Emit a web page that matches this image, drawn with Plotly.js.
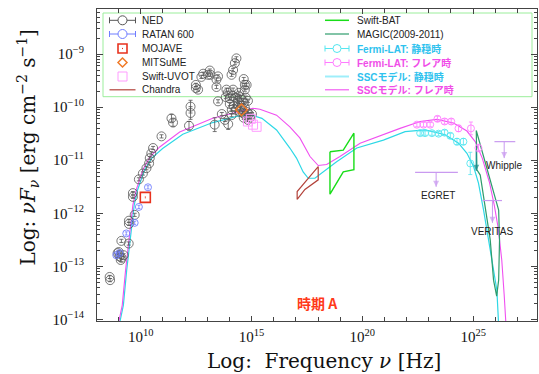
<!DOCTYPE html>
<html><head><meta charset="utf-8">
<script src="https://cdn.plot.ly/plotly-3.0.1.min.js"></script>
<style>html,body{margin:0;padding:0;background:#fff;}#chart{width:539px;height:374px;}</style>
</head><body><div id="chart"></div>
<script>
// ---- data: log10(frequency [Hz]) and log10(nuFnu [erg cm^-2 s^-1]) ----
const nedX = [8.60,8.62,8.96,9.05,9.14,9.23,9.10,9.01,9.13,9.46,
  9.47,9.47,9.73,9.65,9.65,9.92,10.10,10.26,10.38,10.41,
  10.48,10.56,10.94,11.39,11.46,12.18,12.25,12.25,13.34,12.49,
  12.49,12.59,12.74,12.82,13.12,13.15,13.04,13.42,13.42,13.49,
  13.87,14.17,14.32,14.25,14.17,14.10,14.65,14.70,14.70,14.78,
  13.49,13.95,13.66,13.80,
  13.84,14.02,14.16,14.29,14.38,14.47,14.56,14.65,14.74,14.84,
  14.02,14.20,14.38,14.52,14.70,14.79,14.11,13.93,14.43,14.29,
  14.47,14.61,14.74,14.88,14.93,14.65,14.84,15.02,14.10];
const nedY = [-13.20,-13.26,-12.75,-12.81,-12.84,-12.79,-12.88,-12.73,-12.52,-12.57,
  -12.14,-12.20,-12.03,-11.62,-11.69,-11.36,-11.25,-11.15,-11.06,-10.96,
  -10.87,-10.77,-10.55,-10.21,-10.29,-10.35,-9.99,-10.11,-10.33,-9.58,
  -9.64,-9.67,-9.43,-9.37,-9.31,-9.39,-9.39,-9.48,-9.62,-9.42,
  -9.67,-9.67,-9.08,-9.17,-9.30,-9.39,-9.47,-9.58,-9.67,-9.58,
  -9.89,-10.32,-10.13,-10.24,
  -9.81,-9.84,-9.79,-9.82,-9.88,-9.81,-9.86,-9.92,-9.82,-9.88,
  -9.94,-9.98,-9.96,-10.01,-10.01,-10.09,-10.05,-9.73,-9.73,-10.05,
  -10.09,-10.11,-10.16,-10.13,-10.20,-10.20,-10.24,-10.13,-10.15];
const nedErr = [.03,.03,.03,.03,.03,.03,.03,.03,.03,.03,
  .03,.03,.03,.03,.03,.03,.03,.03,.03,.03,
  .03,.03,.03,.07,.07,.08,.12,.12,.13,.03,
  .03,.03,.03,.03,.03,.03,.03,.03,.03,.03,
  .03,.03,.03,.03,.03,.03,.03,.03,.03,.03,
  .03,.10,.03,.03,
  .03,.03,.03,.03,.03,.03,.03,.03,.03,.03,
  .03,.03,.03,.03,.03,.03,.03,.03,.03,.03,
  .03,.03,.03,.03,.03,.03,.03,.03,.03];

const ratanX = [10.33, 9.92, 9.73, 9.35, 9.05, 8.90];
const ratanY = [-11.51, -11.88, -12.18, -12.38, -12.75, -12.79];

const mojaveX = [10.21];
const mojaveY = [-11.70];

const mitsumeX = [14.55];
const mitsumeY = [-10.05];

const uvotX = [14.84, 14.97, 15.07, 15.23];
const uvotY = [-10.27, -10.22, -10.33, -10.37];

const chandraX = [17.06, 17.06, 17.56, 18.01, 18.01, 17.41];
const chandraY = [-11.74, -11.59, -11.34, -11.12, -11.37, -11.55];

const batX = [18.54, 19.14, 19.62, 19.62, 19.14, 18.54];
const batY = [-10.84, -10.81, -10.49, -11.18, -11.22, -11.64];

const magicX = [25.14, 25.40, 25.77, 26.15, 26.19, 26.15, 26.06, 25.92, 25.77, 25.32, 25.17];
const magicY = [-10.44, -10.84, -11.37, -11.94, -12.50, -13.26, -13.56, -13.26, -12.50, -11.28, -11.18];
const magicLimX = [25.14, 25.14];
const magicLimY = [-10.81, -11.20];

const fermiQX = [22.61, 22.83, 23.14, 23.44, 23.71, 23.97, 24.27, 24.56, 24.87];
const fermiQY = [-10.49, -10.49, -10.49, -10.50, -10.48, -10.54, -10.65, -10.65, -11.06];
const fermiQErr = [0.04, 0.04, 0.04, 0.04, 0.05, 0.05, 0.06, 0.06, 0.21];

const fermiFX = [22.46, 22.76, 23.06, 23.39, 23.71, 24.01, 24.34, 24.90, 25.24];
const fermiFY = [-10.33, -10.33, -10.33, -10.22, -10.27, -10.27, -10.40, -10.40, -10.77];
const fermiFErr = [0.04, 0.04, 0.04, 0.05, 0.05, 0.05, 0.06, 0.12, 0.07];

const sscQX = [9.07,9.22,9.37,9.55,9.71,9.86,10.02,10.18,10.50,10.99,11.90,13.25,14.47,15.02,15.47,16.13,
  16.73,17.03,17.33,17.56,17.86,18.24,18.84,19.75,20.95,21.93,22.83,23.74,24.34,24.72,25.02,25.24,25.47,25.77,26.07,26.14];
const sscQY = [-14.03,-13.73,-13.07,-12.35,-11.84,-11.56,-11.37,-11.18,-10.96,-10.78,-10.51,-10.29,-10.16,-10.15,-10.21,-10.43,
  -10.77,-10.96,-11.22,-11.34,-11.34,-11.22,-11.03,-10.77,-10.62,-10.46,-10.43,-10.52,-10.68,-10.87,-11.12,-11.43,-11.94,-12.69,-13.45,-14.03];

const sscFX = [9.02,9.17,9.32,9.50,9.65,9.80,9.95,10.10,10.41,10.86,11.76,13.25,14.78,15.06,15.38,16.13,
  16.73,17.18,17.64,18.01,18.39,18.99,19.90,20.65,21.70,22.61,23.36,24.11,24.72,25.09,25.41,25.73,25.95,26.13,26.29,26.40,26.47];
const sscFY = [-14.03,-13.73,-13.07,-12.35,-11.84,-11.56,-11.37,-11.18,-10.94,-10.75,-10.47,-10.21,-10.05,-10.02,-10.04,-10.15,
  -10.37,-10.58,-10.93,-11.10,-11.08,-10.93,-10.68,-10.56,-10.40,-10.27,-10.23,-10.30,-10.45,-10.65,-10.96,-11.41,-11.84,-12.28,-12.88,-13.54,-14.03];

// upper limits: EGRET, Whipple, VERITAS
const ulNames = ['EGRET', 'Whipple', 'VERITAS'];
const ulX0 = [22.38, 25.96, 25.42];
const ulX1 = [24.31, 26.90, 26.30];
const ulY = [-11.23, -10.65, -11.76];
const ulArrowX = [23.33, 26.40, 25.87];
const ulHeadY = [-11.50, -10.96, -12.18];
const ulLabelX = [23.43, 26.42, 25.85];
const ulLabelY = [-11.67, -11.09, -12.35];

const xTickVals = [10, 15, 20, 25];
const xTickText = ['10<sup>10</sup>', '10<sup>15</sup>', '10<sup>20</sup>', '10<sup>25</sup>'];
const yTickVals = [-14, -13, -12, -11, -10, -9];
const yTickText = ['10<sup>−14</sup>', '10<sup>−13</sup>', '10<sup>−12</sup>', '10<sup>−11</sup>', '10<sup>−10</sup>', '10<sup>−9</sup>'];

const legendCol1 = ['NED', 'RATAN 600', 'MOJAVE', 'MITSuME', 'Swift-UVOT', 'Chandra'];
const legendCol2 = ['Swift-BAT', 'MAGIC(2009-2011)', 'Fermi-LAT: 静穏時', 'Fermi-LAT: フレア時', 'SSCモデル: 静穏時', 'SSCモデル: フレア時'];
const periodLabel = '時期 A';

// ---- colours ----
const C = {
  ned: '#555555', ratan: '#6f7dff', mojave: '#e8321e', mitsume: '#f07a28', uvot: '#ff9cff',
  chandra: '#b3423a', bat: '#18dd18', magic: '#2e9c6c', magicLim: '#178f8f',
  fermiQ: '#55e6f0', fermiF: '#ff7cff', sscQ: '#2ed8e6', sscF: '#f050f0',
  ul: '#c99af0', txtQ: '#2ec2ee', txtF: '#f04ee8', legBox: '#9bee9b'
};

const close = a => a.concat([a[0]]);
const arrowTrace = (xs, ys, color, w) => ({x: xs, y: ys, mode: 'lines+markers',
  line: {color: color, width: w},
  marker: {symbol: 'arrow-down', size: [0, 6], color: color, line: {width: 0}}});

const traces = [
  {x: sscQX, y: sscQY, mode: 'lines', line: {color: C.sscQ, width: 1.2}},
  {x: sscFX, y: sscFY, mode: 'lines', line: {color: C.sscF, width: 1.1}},
  {x: close(chandraX), y: close(chandraY), mode: 'lines', line: {color: C.chandra, width: 1.2}},
  {x: close(batX), y: close(batY), mode: 'lines', line: {color: C.bat, width: 1.4}},
  {x: close(magicX), y: close(magicY), mode: 'lines', line: {color: C.magic, width: 1.2}},
  arrowTrace(magicLimX, magicLimY, C.magicLim, 1.2),
  {x: nedX, y: nedY, mode: 'markers',
   marker: {symbol: 'circle-open', size: 9, color: C.ned, line: {width: 0.8}},
   error_y: {type: 'data', array: nedErr, color: C.ned, thickness: 0.8, width: 2}},
  {x: ratanX, y: ratanY, mode: 'markers',
   marker: {symbol: 'circle-open', size: 7, color: C.ratan, line: {width: 0.9}},
   error_y: {type: 'data', array: ratanX.map(() => 0.03), color: C.ratan, thickness: 0.8, width: 1.5}},
  {x: mojaveX, y: mojaveY, mode: 'markers',
   marker: {symbol: 'square-open', size: 10, color: C.mojave, line: {width: 1.6}},
   error_y: {type: 'data', array: [0.02], color: C.mojave, thickness: 0.8, width: 0}},
  {x: mitsumeX, y: mitsumeY, mode: 'markers',
   marker: {symbol: 'diamond-open', size: 9, color: C.mitsume, line: {width: 1.5}}},
  {x: uvotX, y: uvotY, mode: 'markers',
   marker: {symbol: 'square-open', size: 9, color: C.uvot, line: {width: 1}}},
  {x: fermiQX, y: fermiQY, mode: 'markers',
   marker: {symbol: 'circle-open', size: 7, color: C.fermiQ, line: {width: 0.9}},
   error_y: {type: 'data', array: fermiQErr, color: C.fermiQ, thickness: 0.8, width: 2}},
  {x: fermiFX, y: fermiFY, mode: 'markers',
   marker: {symbol: 'circle-open', size: 7, color: C.fermiF, line: {width: 0.9}},
   error_y: {type: 'data', array: fermiFErr, color: C.fermiF, thickness: 0.8, width: 2}}
];
ulX0.forEach((x0, i) => {
  traces.push({x: [x0, ulX1[i]], y: [ulY[i], ulY[i]], mode: 'lines', line: {color: C.ul, width: 1.2}});
  traces.push(arrowTrace([ulArrowX[i], ulArrowX[i]], [ulY[i], ulHeadY[i]], C.ul, 1));
});

// ---- layout helpers (pixel -> paper) ----
const ML = 97, MT = 9, MR = 2, MB = 53, FW = 539, FH = 374;
const PW = FW - ML - MR, PH = FH - MT - MB;
const px = x => (x - ML) / PW;
const py = y => 1 - (y - MT) / PH;

const shapes = [];
const annotations = [];

// legend box
shapes.push({type: 'rect', xref: 'paper', yref: 'paper', x0: px(103), x1: px(532), y0: py(96.7), y1: py(13),
  line: {color: C.legBox, width: 1}, layer: 'below'});

const pLine = (x0, y0, x1, y1, color, width) => ({type: 'line', xref: 'paper', yref: 'paper',
  x0: px(x0), y0: py(y0), x1: px(x1), y1: py(y1), line: {color: color, width: width}});
const pSym = (type, cx, cy, r, color, w) => ({type: type, xref: 'paper', yref: 'paper',
  xsizemode: 'pixel', ysizemode: 'pixel', xanchor: px(cx), yanchor: py(cy),
  x0: -r, x1: r, y0: -r, y1: r, line: {color: color, width: w}});
const pDiamond = (cx, cy, r, color, w) => ({type: 'path', xref: 'paper', yref: 'paper',
  xsizemode: 'pixel', ysizemode: 'pixel', xanchor: px(cx), yanchor: py(cy),
  path: `M0,${r} L${r},0 L0,${-r} L${-r},0 Z`, line: {color: color, width: w}});
const errSym = (xa, xb, cy, r, color) => {
  const cx = (xa + xb) / 2;
  shapes.push(pLine(xa, cy, cx - r, cy, color, 1));
  shapes.push(pLine(cx + r, cy, xb, cy, color, 1));
  shapes.push(pLine(xa, cy - 3, xa, cy + 3, color, 1));
  shapes.push(pLine(xb, cy - 3, xb, cy + 3, color, 1));
  shapes.push(pSym('circle', cx, cy, r, color, 1));
};

const rowY = [20.3, 34, 48.5, 62.5, 76.5, 89.8];
// column 1 symbols
errSym(109.5, 135.5, rowY[0], 4.5, C.ned);
errSym(109.5, 135.5, rowY[1], 4.5, C.ratan);
shapes.push(pSym('rect', 122.5, rowY[2], 4.5, C.mojave, 1.6));
shapes.push(pLine(122.5, rowY[2] - 0.6, 122.5, rowY[2] + 0.6, C.mojave, 1));
shapes.push(pDiamond(122.5, rowY[3], 4.5, C.mitsume, 1.5));
shapes.push(pSym('rect', 122.5, rowY[4], 4.5, C.uvot, 1));
shapes.push(pLine(109.5, rowY[5], 135.5, rowY[5], C.chandra, 1.2));
// column 2 symbols
shapes.push(pLine(325, rowY[0], 349, rowY[0], C.bat, 1.5));
shapes.push(pLine(325, rowY[1], 349, rowY[1], C.magic, 1.2));
errSym(325, 349, rowY[2], 4, C.fermiQ);
errSym(325, 349, rowY[3], 4, C.fermiF);
shapes.push(pLine(325, rowY[4], 349, rowY[4], '#9eeefa', 2));
shapes.push(pLine(325, rowY[5], 349, rowY[5], C.sscF, 1.1));

const legFont = {family: 'Liberation Sans, Arial, Noto Sans CJK JP, sans-serif', size: 10, color: '#222'};
legendCol1.forEach((t, i) => annotations.push({xref: 'paper', yref: 'paper', x: px(141.2), y: py(rowY[i]),
  xanchor: 'left', yanchor: 'middle', text: t, showarrow: false, borderpad: 0, font: legFont}));
const col2Colors = ['#222', '#222', C.txtQ, C.txtF, C.txtQ, C.txtF];
legendCol2.forEach((t, i) => annotations.push({xref: 'paper', yref: 'paper', x: px(355.5), y: py(rowY[i]),
  xanchor: 'left', yanchor: 'middle', text: i >= 2 ? '<b>' + t + '</b>' : t, showarrow: false, borderpad: 0,
  font: Object.assign({}, legFont, {color: col2Colors[i]})}));

// upper-limit labels
ulNames.forEach((t, i) => {
  annotations.push({xref: 'x', yref: 'y', x: ulLabelX[i], y: ulLabelY[i], text: t, showarrow: false,
    xanchor: 'center', yanchor: 'middle', borderpad: 0,
    font: {family: 'Liberation Sans, Arial, sans-serif', size: 10, color: '#222'}});
});

// period label
annotations.push({xref: 'paper', yref: 'paper', x: px(317.5), y: py(302.7), text: '<b>' + periodLabel + '</b>',
  xanchor: 'center', yanchor: 'middle', borderpad: 0,
  showarrow: false, font: {family: 'Noto Sans CJK JP, sans-serif', size: 14, color: '#ff3a1a'}});

// axis titles
annotations.push({xref: 'paper', yref: 'paper', x: px(28), y: py(147.5), textangle: -90, showarrow: false,
  xanchor: 'center', yanchor: 'middle', borderpad: 0,
  text: 'Log: <i>νF</i><sub><i>ν</i></sub> [erg cm<sup>−2</sup> s<sup>−1</sup>]',
  font: {family: 'DejaVu Serif, serif', size: 20, color: '#111'}});
annotations.push({xref: 'paper', yref: 'paper', x: px(324), y: py(361), showarrow: false,
  xanchor: 'center', yanchor: 'middle', borderpad: 0,
  text: 'Log:\u00a0 Frequency <i>ν</i> [Hz]',
  font: {family: 'DejaVu Serif, serif', size: 20, color: '#111'}});

const yMinor = [];
for (let d = -15; d <= -9; d++) [2, 3, 4, 5, 6, 7, 8, 9].forEach(k => yMinor.push(d + Math.log10(k)));

const tickFont = {family: 'Liberation Serif, DejaVu Serif, serif', size: 15, color: '#111'};
const layout = {
  width: FW, height: FH, margin: {l: ML, r: MR, t: MT, b: MB},
  paper_bgcolor: '#fff', plot_bgcolor: '#fff', showlegend: false,
  xaxis: {range: [8.03, 27.88], tickmode: 'array', tickvals: xTickVals, ticktext: xTickText,
    ticks: 'inside', ticklen: 5, tickwidth: 1, tickcolor: '#444', showline: true, linecolor: '#444', linewidth: 1,
    mirror: 'allticks', showgrid: false, zeroline: false, tickfont: tickFont, ticklabelstandoff: 2,
    minor: {tickmode: 'linear', tick0: 0, dtick: 1, ticks: 'inside', ticklen: 4, tickcolor: '#444', showgrid: false}},
  yaxis: {range: [-14.03, -8.15], tickmode: 'array', tickvals: yTickVals, ticktext: yTickText,
    ticks: 'inside', ticklen: 6, tickwidth: 1, tickcolor: '#444', showline: true, linecolor: '#444', linewidth: 1,
    mirror: 'allticks', showgrid: false, zeroline: false, tickfont: tickFont, ticklabelstandoff: 9,
    minor: {tickmode: 'array', tickvals: yMinor, ticks: 'inside', ticklen: 3, tickcolor: '#444', showgrid: false}},
  shapes: shapes, annotations: annotations
};

Plotly.newPlot('chart', traces, layout, {staticPlot: true, displayModeBar: false});
</script></body></html>
